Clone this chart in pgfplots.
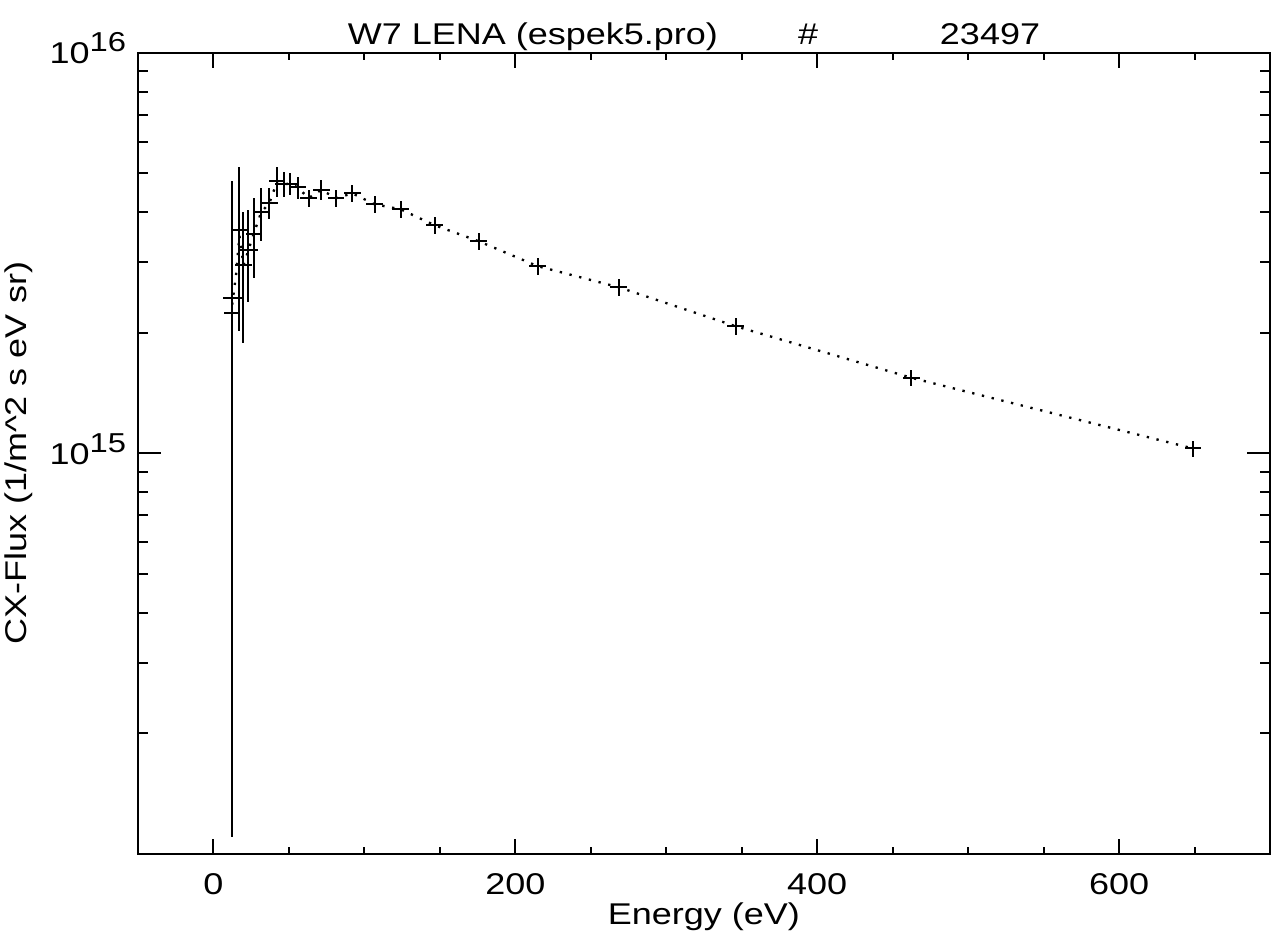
\documentclass[border=0pt]{standalone}
\usepackage{fontspec}
\setmainfont{Liberation Sans}[FakeStretch=1.2]
\usepackage{pgfplots}
\pgfplotsset{compat=1.18}
\usepackage{pgfplotstable}

\pgfplotstableread{
x y ex ey
12.3 2.45e15 6.3 2.34e15
12.6 2.24e15 5.3 1.68e15
17.2 3.61e15 5.5 1.59e15
19.9 2.95e15 5.6 1.06e15
23.2 3.22e15 6.3 0.83e15
26.7 3.54e15 5.3 0.80e15
31.6 4.00e15 5.6 0.60e15
37.1 4.22e15 5.5 0.37e15
42.2 4.78e15 5.5 0.41e15
46.6 4.70e15 5.5 0.34e15
51.0 4.72e15 5.5 0.30e15
55.7 4.62e15 5.5 0.29e15
63.0 4.34e15 5.5 0.21e15
71.4 4.55e15 5.5 0.26e15
81.3 4.34e15 5.5 0.21e15
92.1 4.46e15 5.5 0.22e15
106.7 4.19e15 5.5 0.20e15
124.0 4.07e15 5.5 0.19e15
146.5 3.715e15 5.5 0.175e15
175.7 3.388e15 5.5 0.16e15
214.8 2.935e15 5.5 0.138e15
268.5 2.60e15 5.5 0.122e15
346.0 2.078e15 5.5 0.098e15
462.4 1.545e15 5.5 0.073e15
649.0 1.029e15 5.5 0.048e15
}\fluxdata

\pgfplotstableread{
x y
12.4 2.35e15
15.0 2.80e15
17.2 3.50e15
19.9 2.95e15
23.2 3.22e15
26.7 3.54e15
31.6 4.00e15
37.1 4.22e15
42.2 4.78e15
46.6 4.70e15
51.0 4.72e15
55.7 4.62e15
63.0 4.34e15
71.4 4.55e15
81.3 4.34e15
92.1 4.46e15
106.7 4.19e15
124.0 4.07e15
146.5 3.715e15
175.7 3.388e15
214.8 2.935e15
268.5 2.60e15
346.0 2.078e15
462.4 1.545e15
649.0 1.029e15
}\dotline

\begin{document}
\begin{tikzpicture}[font=\fontsize{9}{10.8}\selectfont]
\useasboundingbox (-41.4pt,-25.5pt) rectangle (342.6pt,256.2pt);
\begin{axis}[
  at={(0pt,0pt)}, anchor=south west,
  scale only axis, width=339.6pt, height=240.3pt,
  clip=false,
  xmin=-50, xmax=700,
  ymode=log, ymin=1e14, ymax=1e16,
  xtick={0,200,400,600}, xticklabels={0,200,400,600},
  minor xtick={-50,50,100,150,250,300,350,450,500,550,650},
  ytick={1e14,1e15,1e16},
  yticklabels={,10\raisebox{3.6pt}{\fontsize{8.2}{8.2}\selectfont 15},10\raisebox{3.6pt}{\fontsize{8.2}{8.2}\selectfont 16}},
  minor ytick={2e14,3e14,4e14,5e14,6e14,7e14,8e14,9e14,2e15,3e15,4e15,5e15,6e15,7e15,8e15,9e15},
  major tick length=5.5pt, minor tick length=2.7pt,
  xtick style={/pgfplots/major tick length=4.5pt,/pgfplots/minor tick length=2.1pt},
  ytick style={/pgfplots/major tick length=6.9pt,/pgfplots/minor tick length=3pt},
  every tick/.style={black, line width=0.6pt},
  axis line style={line width=0.6pt},
  xticklabel style={anchor=base, yshift=-12.3pt},
  yticklabel style={anchor=base east, yshift=-3.3pt},
  xlabel={Energy (eV)},
  xlabel style={at={(rel axis cs:0.5,0)}, anchor=base, yshift=-21.3pt},
  ylabel={CX-Flux (1/m\textasciicircum 2 s eV sr)},
  ylabel style={at={(rel axis cs:0,0.5)}, anchor=south, yshift=28.2pt},
]
\addplot[draw=none, no markers,
  error bars/.cd, x dir=both, x explicit, y dir=both, y explicit,
  error mark=none, error bar style={draw=black, solid, line width=0.6pt}]
  table[x=x, y=y, x error=ex, y error=ey] {\fluxdata};
\addplot[black, line width=0.7pt, dash pattern=on 0.7pt off 2.3pt, no markers]
  table[x=x, y=y] {\dotline};
\node[anchor=base] at (rel axis cs:0.3489,1) [yshift=2.4pt] {W7 LENA (espek5.pro)};
\node[anchor=base] at (rel axis cs:0.5919,1) [yshift=2.4pt] {\#};
\node[anchor=base] at (rel axis cs:0.7527,1) [yshift=2.4pt] {23497};
\end{axis}
\end{tikzpicture}
\end{document}
